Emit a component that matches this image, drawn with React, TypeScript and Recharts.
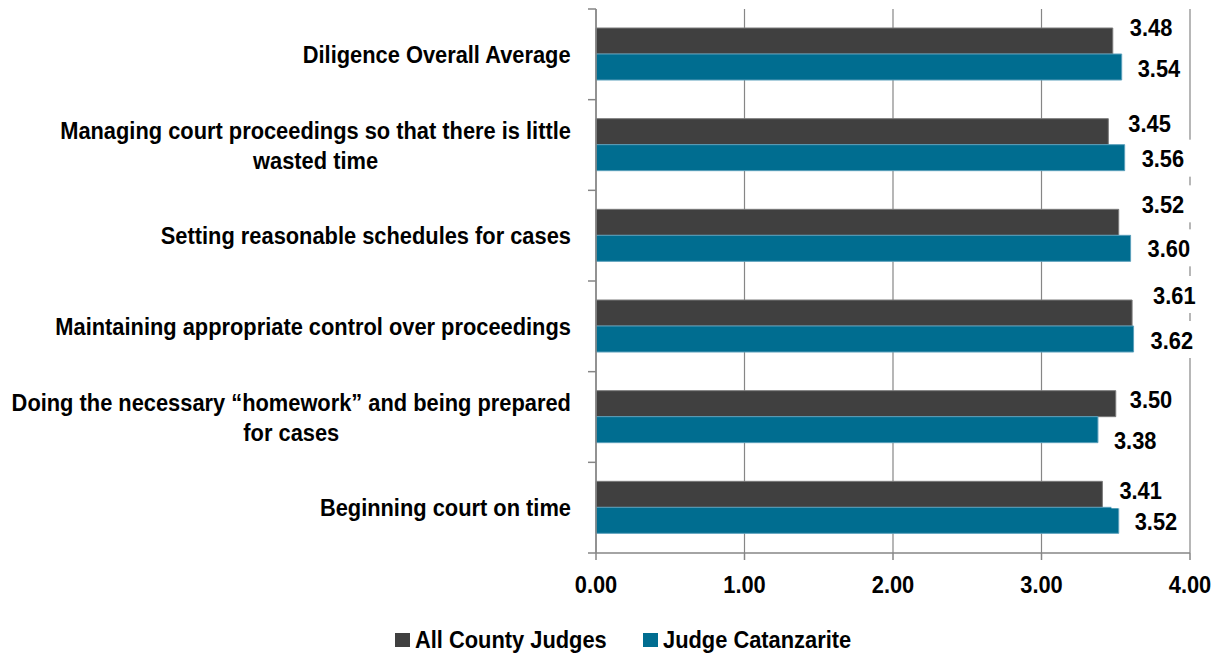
import React from 'react';
import { BarChart, Bar, XAxis, YAxis, CartesianGrid, Legend } from 'recharts';

const categories = [
  'Diligence Overall Average',
  'Managing court proceedings so that there is little wasted time',
  'Setting reasonable schedules for cases',
  'Maintaining appropriate control over proceedings',
  'Doing the necessary \u201chomework\u201d and being prepared for cases',
  'Beginning court on time',
];
const allCountyJudges = [3.48, 3.45, 3.52, 3.61, 3.5, 3.41];
const judgeCatanzarite = [3.54, 3.56, 3.6, 3.62, 3.38, 3.52];
const xTicks = [0, 1, 2, 3, 4];
const seriesNames = ['All County Judges', 'Judge Catanzarite'];

const COLORS = ['#404040', '#006D90'];
const STROKES = ['#7a7a7a', '#5a9fbb'];
const AXIS = '#868686';
const FONT = '"Liberation Sans", Arial, Helvetica, sans-serif';
const FS = 24;
const SX = 0.91;

const W = 1220;
const H = 656;
const MARGIN = { top: 9, right: 30, bottom: 53, left: 0 };
const X_AXIS_H = 50;
const Y_AXIS_W = 596;
const BAND = (H - MARGIN.top - MARGIN.bottom - X_AXIS_H) / categories.length;

// label nudges (dx from bar end, dy from bar centre), per row
const labelNudgeAll = [[17, -14], [20, -8], [23, -18], [21, -18], [14, -4], [17, -4]];
const labelNudgeJudge = [[16, 1], [17, 1], [17, 0], [17, 1], [16, 11], [16, 1]];

const data = categories.map((name, i) => ({
  name,
  all: allCountyJudges[i],
  judge: judgeCatanzarite[i],
}));

let ctx: CanvasRenderingContext2D | null = null;
function measure(text: string): number {
  if (!ctx) {
    const c = document.createElement('canvas');
    ctx = c.getContext('2d');
  }
  if (!ctx) return text.length * FS * 0.55 * SX;
  ctx.font = `bold ${FS}px ${FONT}`;
  return ctx.measureText(text).width * SX;
}

function wrap(text: string, maxW: number): string[] {
  const words = text.split(' ');
  const lines: string[] = [];
  let cur = '';
  for (const w of words) {
    const t = cur ? cur + ' ' + w : w;
    if (cur && measure(t) > maxW) {
      lines.push(cur);
      cur = w;
    } else cur = t;
  }
  if (cur) lines.push(cur);
  return lines;
}

const SText = ({ x, y, anchor, children, dy }: any) => (
  <text
    transform={`translate(${x} ${y}) scale(${SX} 1)`}
    x={0}
    y={0}
    dy={dy}
    textAnchor={anchor}
    fontFamily={FONT}
    fontWeight="bold"
    fontSize={FS}
    fill="#000"
  >
    {children}
  </text>
);

const CategoryTick = (props: any) => {
  const { x, y, payload, index } = props;
  const lines = wrap(String(payload.value), 568);
  const maxW = Math.max(...lines.map(measure));
  const right = x - 25;
  const cx = right - maxW / 2;
  const lineH = 30;
  const startY = y - ((lines.length - 1) * lineH) / 2;
  const half = BAND / 2;
  return (
    <g>
      <line x1={x - 8} x2={x} y1={y - half} y2={y - half} stroke={AXIS} strokeWidth={1.5} />
      {index === categories.length - 1 && (
        <line x1={x - 8} x2={x} y1={y + half} y2={y + half} stroke={AXIS} strokeWidth={1.5} />
      )}
      {lines.map((l, i) => (
        <SText key={i} x={cx} y={startY + i * lineH} anchor="middle" dy="0.36em">
          {l}
        </SText>
      ))}
    </g>
  );
};

const XTick = (props: any) => {
  const { x, y, payload } = props;
  return (
    <SText x={x} y={y} anchor="middle" dy="0.71em">
      {Number(payload.value).toFixed(2)}
    </SText>
  );
};

const makeLabel = (nudges: number[][]) => (props: any) => {
  const { x, y, width, height, value, index } = props;
  const n = nudges[index] || [16, 0];
  const tx = Number(x) + Number(width) + n[0];
  const cy = Number(y) + Number(height) / 2 + n[1];
  const text = Number(value).toFixed(2);
  const w = measure(text);
  return (
    <g>
      <rect x={tx - 8} y={cy - 19} width={w + 16} height={37} fill="#ffffff" />
      <SText x={tx} y={cy} anchor="start" dy="0.36em">
        {text}
      </SText>
    </g>
  );
};

const LEGEND_POS = [395, 643];

const LegendContent = () => (
  <div style={{ position: 'relative', width: W, height: 28, fontFamily: FONT, fontWeight: 'bold', fontSize: FS, color: '#000' }}>
    {seriesNames.map((n, i) => (
      <div key={n} style={{ position: 'absolute', left: LEGEND_POS[i], top: 0, height: 28, display: 'flex', alignItems: 'center' }}>
        <span style={{ display: 'inline-block', width: 15, height: 14, background: COLORS[i], marginRight: 5 }} />
        <span style={{ display: 'inline-block', transform: `scaleX(${SX})`, transformOrigin: 'left center', whiteSpace: 'nowrap', lineHeight: '28px' }}>
          {n}
        </span>
      </div>
    ))}
  </div>
);

export default function App() {
  return (
    <div style={{ position: 'absolute', left: 0, top: 0, width: W, height: H, background: '#fff' }}>
      <BarChart width={W} height={H} data={data} layout="vertical" margin={MARGIN} barGap={0}>
        <CartesianGrid horizontal={false} vertical={true} stroke={AXIS} strokeWidth={1.2} />
        <XAxis
          type="number"
          domain={[0, 4]}
          ticks={xTicks}
          interval={0}
          height={X_AXIS_H}
          tickSize={7}
          tickMargin={16}
          axisLine={{ stroke: AXIS, strokeWidth: 1.5 }}
          tickLine={{ stroke: AXIS, strokeWidth: 1.5 }}
          tick={<XTick />}
        />
        <YAxis
          type="category"
          dataKey="name"
          width={Y_AXIS_W}
          interval={0}
          tickSize={0}
          tickMargin={0}
          tickLine={false}
          axisLine={{ stroke: AXIS, strokeWidth: 1.5 }}
          tick={<CategoryTick />}
        />
        <Legend
          layout="horizontal"
          align="center"
          verticalAlign="middle"
          wrapperStyle={{ top: 626, left: 0, width: W, height: 28 }}
          content={<LegendContent />}
        />
        <Bar
          dataKey="all"
          name={seriesNames[0]}
          fill={COLORS[0]}
          stroke={STROKES[0]}
          strokeWidth={1}
          barSize={26}
          isAnimationActive={false}
          label={makeLabel(labelNudgeAll)}
        />
        <Bar
          dataKey="judge"
          name={seriesNames[1]}
          fill={COLORS[1]}
          stroke={STROKES[1]}
          strokeWidth={1}
          barSize={26}
          isAnimationActive={false}
          label={makeLabel(labelNudgeJudge)}
        />
      </BarChart>
    </div>
  );
}
